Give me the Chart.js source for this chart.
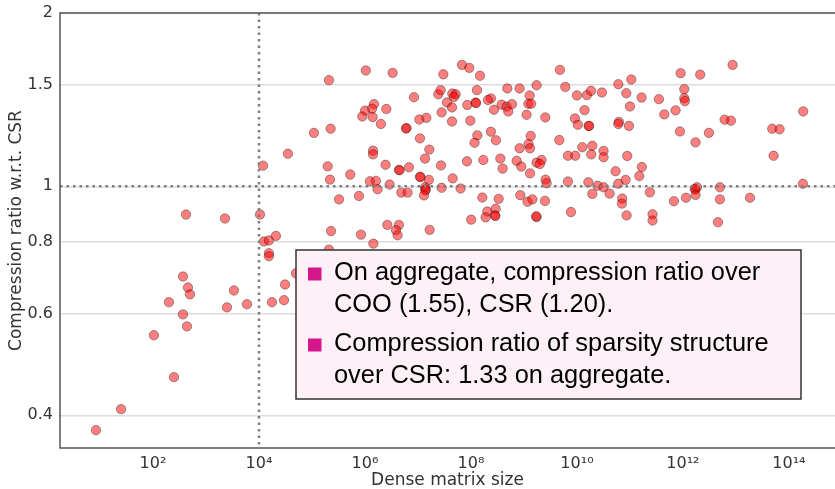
<!DOCTYPE html>
<html>
<head>
<meta charset="utf-8">
<script src="https://cdn.jsdelivr.net/npm/chart.js@4"></script>
<style>
  html, body { margin: 0; padding: 0; background: #fff; overflow: hidden; }
  canvas { display: block; }
</style>
</head>
<body>
<canvas id="chart" width="835" height="489"></canvas>
<script>
// dense matrix size (x) and compression ratio w.r.t. CSR (y)
const matrixSize = [
  8.4, 25, 104, 249, 200, 368, 457, 499, 368, 438, 420, 2280, 10450, 2490, 3370, 5940,
  11900, 35200, 12400, 15400, 20900, 15400, 15400, 17600, 29700, 31000, 49900,
  6.76e7, 9.31e7, 3.01e7, 1.48e8, 1.04e6, 3.33e6, 2.09e5, 4.78e9, 6.03e9,
  2.42e7, 2.68e7, 4.45e7, 5.14e7, 4.78e7, 3.52e7, 4.39e7, 2.80e7, 4.39e7,
  1.30e8, 4.85e8, 8.28e8, 1.73e9, 1.28e9, 2.38e8, 2.09e8, 8.53e7, 1.22e8, 1.25e8,
  2.72e8, 3.79e8, 4.71e8, 5.94e8, 5.06e8, 1.21e9, 1.37e9, 1.12e9, 2.53e9,
  8.41e6, 1.48e6, 1.36e6, 1.00e6, 8.91e5, 1.40e6, 2.53e6, 2.00e6, 1.06e7, 1.44e7,
  1.09e5, 2.25e5, 5.94e6, 6.1e6, 9.72e7, 1.09e7, 1.64e7, 1.36e7,
  1.32e8, 1.17e8, 2.38e8, 2.96e8, 1.34e9, 1.22e9, 1.30e9, 8.28e8, 1.42e6, 1.42e6,
  1.98e5, 5.28e5, 2.19e5, 2.45e6, 4.38e6, 4.5e6, 6.76e6, 2.72e7, 8.41e7, 1.71e8,
  3.58e8, 3.96e8, 7.28e8, 8.91e8, 1.30e9, 1.73e9, 2.15e9, 2.00e9, 2.56e9, 2.68e9,
  1.24e6, 1.61e6, 1.73e6, 2.92e6, 4.85e6, 6.38e6, 1.09e7, 1.12e7, 1.61e7, 1.36e7,
  1.40e7, 1.38e7, 1.30e7, 2.80e7, 4.51e7, 6.38e7, 3.24e5, 7.71e5,
  1.64e8, 3.33e8, 2.03e8, 2.92e8, 2.84e8, 2.88e8, 8.53e8, 1.17e9, 1.44e9, 2.49e9,
  1.73e9, 1.70e9, 1.01e8, 1.89e8, 2.29e5, 8.41e5, 2.64e6, 4.38e6, 3.85e6, 4.13e6,
  1.66e7, 1.44e6, 2.09e5, 4.65e9,
  1.00e10, 1.54e10, 1.84e10, 2.96e10, 6.03e10, 1.06e11, 8.53e10, 1.66e11, 1.00e11,
  3.52e11, 4.45e11, 7.26e11, 9.04e11, 2.12e12, 8.65e12, 1.06e12, 1.06e12, 1.09e12,
  1.39e10, 9.16e9, 1.04e10, 1.66e10, 1.70e10, 6.19e10, 6.03e10, 9.57e10,
  8.77e11, 1.73e12, 3.09e12, 6.11e12, 8.04e12, 4.84e13, 6.67e13, 1.86e14, 5.13e13,
  1.26e10, 1.95e10, 1.86e10, 3.18e10, 3.18e10, 8.89e10, 6.76e9, 9.29e9,
  5.36e10, 1.68e11, 1.50e11, 8.28e10, 6.03e10, 6.76e9, 1.64e10, 2.45e10, 3.18e10,
  4.13e10, 1.95e10, 7.16e10, 7.06e10, 8.65e10, 2.38e11, 6.76e11, 1.14e12,
  1.68e12, 1.72e12, 1.84e12, 1.73e12, 4.99e12, 4.99e12, 1.84e13, 1.84e14,
  7.71e9, 2.67e11, 2.67e11, 4.57e12
];
const ratioCSR = [
  0.377, 0.410, 0.551, 0.466, 0.629, 0.697, 0.667, 0.649, 0.599, 0.571, 0.893, 0.879, 0.893, 0.616, 0.659, 0.624,
  1.086, 1.139, 0.802, 0.805, 0.820, 0.765, 0.756, 0.629, 0.634, 0.675, 0.706,
  1.625, 1.606, 1.565, 1.556, 1.589, 1.574, 1.529, 1.593, 1.488,
  1.445, 1.469, 1.449, 1.445, 1.430, 1.398, 1.371, 1.344, 1.296,
  1.469, 1.479, 1.479, 1.498, 1.438, 1.421, 1.412, 1.384, 1.398, 1.395,
  1.358, 1.386, 1.375, 1.389, 1.349, 1.391, 1.391, 1.331, 1.317,
  1.428, 1.389, 1.364, 1.353, 1.322, 1.319, 1.362, 1.283, 1.306, 1.315,
  1.238, 1.259, 1.260, 1.262, 1.300, 1.211, 1.158, 1.117,
  1.226, 1.190, 1.244, 1.202, 1.223, 1.184, 1.164, 1.164, 1.153, 1.136,
  1.083, 1.048, 1.027, 1.090, 1.068, 1.066, 1.079, 1.087, 1.105, 1.111,
  1.117, 1.073, 1.107, 1.082, 1.053, 1.099, 1.111, 1.093, 1.027, 1.012,
  1.020, 1.022, 0.988, 1.007, 0.975, 0.975, 1.039, 1.037, 1.026, 0.996,
  0.987, 0.984, 0.964, 0.994, 1.032, 0.991, 0.949, 0.962,
  0.956, 0.951, 0.904, 0.914, 0.890, 0.888, 0.965, 0.940, 0.949, 0.943,
  0.884, 0.887, 0.875, 0.883, 0.836, 0.824, 0.857, 0.857, 0.839, 0.822,
  0.840, 0.795, 0.776, 1.203,
  1.438, 1.440, 1.465, 1.455, 1.504, 1.533, 1.451, 1.426, 1.376,
  1.417, 1.333, 1.355, 1.572, 1.563, 1.625, 1.475, 1.422, 1.406,
  1.356, 1.312, 1.279, 1.273, 1.273, 1.294, 1.283, 1.273,
  1.245, 1.192, 1.238, 1.305, 1.300, 1.259, 1.256, 1.349, 1.130,
  1.169, 1.176, 1.136, 1.152, 1.123, 1.129, 1.130, 1.130,
  1.062, 1.080, 1.042, 1.026, 1.010, 1.019, 1.016, 1.002, 0.996,
  0.971, 0.970, 0.952, 0.933, 0.890, 0.976, 0.942, 0.955,
  0.990, 0.987, 0.996, 0.966, 0.996, 0.949, 0.955, 1.010,
  0.902, 0.894, 0.872, 0.866
];

const xTicks = [1e2, 1e4, 1e6, 1e8, 1e10, 1e12, 1e14];
const yTicks = [0.4, 0.6, 0.8, 1, 1.5, 2];
const refSize = 1e4;
const refRatio = 1;
const noteLines = [
  ["On aggregate, compression ratio over", "COO (1.55), CSR (1.20)."],
  ["Compression ratio of sparsity structure", "over CSR: 1.33 on aggregate."]
];

const points = matrixSize.map((x, i) => ({ x: x, y: ratioCSR[i] }));

const sup = { "0": "\u2070", "1": "\u00b9", "2": "\u00b2", "3": "\u00b3", "4": "\u2074",
  "5": "\u2075", "6": "\u2076", "7": "\u2077", "8": "\u2078", "9": "\u2079" };
function powLabel(v) {
  const e = String(Math.round(Math.log10(v)));
  return "10" + e.split("").map((c) => sup[c]).join("");
}

// spines, reference dotted lines and the note box
const extras = {
  id: "extras",
  afterLayout(chart) {
    // plot runs to the right edge of the picture
    const xs = chart.scales.x;
    chart.chartArea.right = chart.width;
    chart.chartArea.width = chart.width - chart.chartArea.left;
    xs.right = chart.width;
    xs.width = xs.right - xs.left;
    xs.configure();
  },
  afterDatasetsDraw(chart) {
    const ctx = chart.ctx;
    const a = chart.chartArea;
    const xs = chart.scales.x, ys = chart.scales.y;
    ctx.save();
    ctx.strokeStyle = "#7f7f7f";
    ctx.lineWidth = 2.5;
    ctx.setLineDash([2.5, 4]);
    const vx = xs.getPixelForValue(refSize);
    ctx.beginPath();
    ctx.moveTo(vx, a.top);
    ctx.lineTo(vx, a.bottom);
    ctx.stroke();
    const hy = ys.getPixelForValue(refRatio);
    ctx.beginPath();
    ctx.moveTo(a.left, hy);
    ctx.lineTo(a.right, hy);
    ctx.stroke();
    ctx.setLineDash([]);
    ctx.strokeStyle = "#555";
    ctx.lineWidth = 1.5;
    ctx.beginPath();
    ctx.moveTo(a.right, a.top);
    ctx.lineTo(a.left, a.top);
    ctx.lineTo(a.left, a.bottom);
    ctx.lineTo(a.right, a.bottom);
    ctx.stroke();
    ctx.restore();
  },
  afterDraw(chart) {
    const ctx = chart.ctx;
    ctx.save();
    ctx.fillStyle = "#fdf0f6";
    ctx.fillRect(296, 250, 505, 149);
    ctx.strokeStyle = "#333";
    ctx.lineWidth = 1.5;
    ctx.strokeRect(296, 250, 505, 149);
    ctx.font = "25.4px 'Liberation Sans', Arial, sans-serif";
    ctx.textBaseline = "alphabetic";
    const base = [[280, 312], [351, 383]];
    noteLines.forEach((lines, i) => {
      ctx.fillStyle = "#d6168c";
      ctx.fillRect(308, base[i][0] - 12.5, 13.5, 13);
      ctx.fillStyle = "#000";
      lines.forEach((t, j) => ctx.fillText(t, 334, base[i][j]));
    });
    ctx.restore();
  }
};

new Chart(document.getElementById("chart"), {
  type: "scatter",
  data: {
    datasets: [{
      data: points,
      backgroundColor: "rgba(255,0,0,0.5)",
      borderColor: "rgba(0,0,0,0.35)",
      borderWidth: 1,
      pointRadius: 4.7,
      pointHoverRadius: 4.7
    }]
  },
  options: {
    responsive: false,
    animation: false,
    layout: { padding: { top: 13, right: 0, left: 0, bottom: 0 } },
    plugins: { legend: { display: false }, tooltip: { enabled: false } },
    scales: {
      x: {
        type: "logarithmic",
        min: 1.76,
        max: 7.4e14,
        afterBuildTicks: (s) => { s.ticks = xTicks.map((v) => ({ value: v })); },
        afterFit: (s) => { s.height = 41; s.paddingLeft = 0; s.paddingRight = 0; },
        grid: { display: false, drawTicks: false },
        border: { display: false },
        ticks: {
          color: "#333",
          padding: 6,
          maxRotation: 0,
          autoSkip: false,
          font: { family: "DejaVu Sans", size: 16 },
          callback: (v) => powLabel(v)
        },
        title: {
          display: true,
          text: "Dense matrix size",
          color: "#333",
          padding: { top: 0, bottom: 0 },
          font: { family: "DejaVu Sans", size: 17, lineHeight: 1.0 }
        }
      },
      y: {
        type: "logarithmic",
        min: 0.351,
        max: 2,
        afterBuildTicks: (s) => { s.ticks = yTicks.map((v) => ({ value: v })); },
        afterFit: (s) => { s.width = 60; s.paddingTop = 0; s.paddingBottom = 0; },
        grid: { color: "#dddddd", lineWidth: 1.5, drawTicks: false },
        border: { display: false },
        ticks: {
          color: "#333",
          padding: 7,
          autoSkip: false,
          font: { family: "DejaVu Sans", size: 16 },
          callback: (v) => String(v)
        },
        title: {
          display: true,
          text: "Compression ratio w.r.t. CSR",
          color: "#333",
          padding: { top: 6, bottom: 0 },
          font: { family: "DejaVu Sans", size: 17 }
        }
      }
    }
  },
  plugins: [extras]
});
</script>
</body>
</html>
